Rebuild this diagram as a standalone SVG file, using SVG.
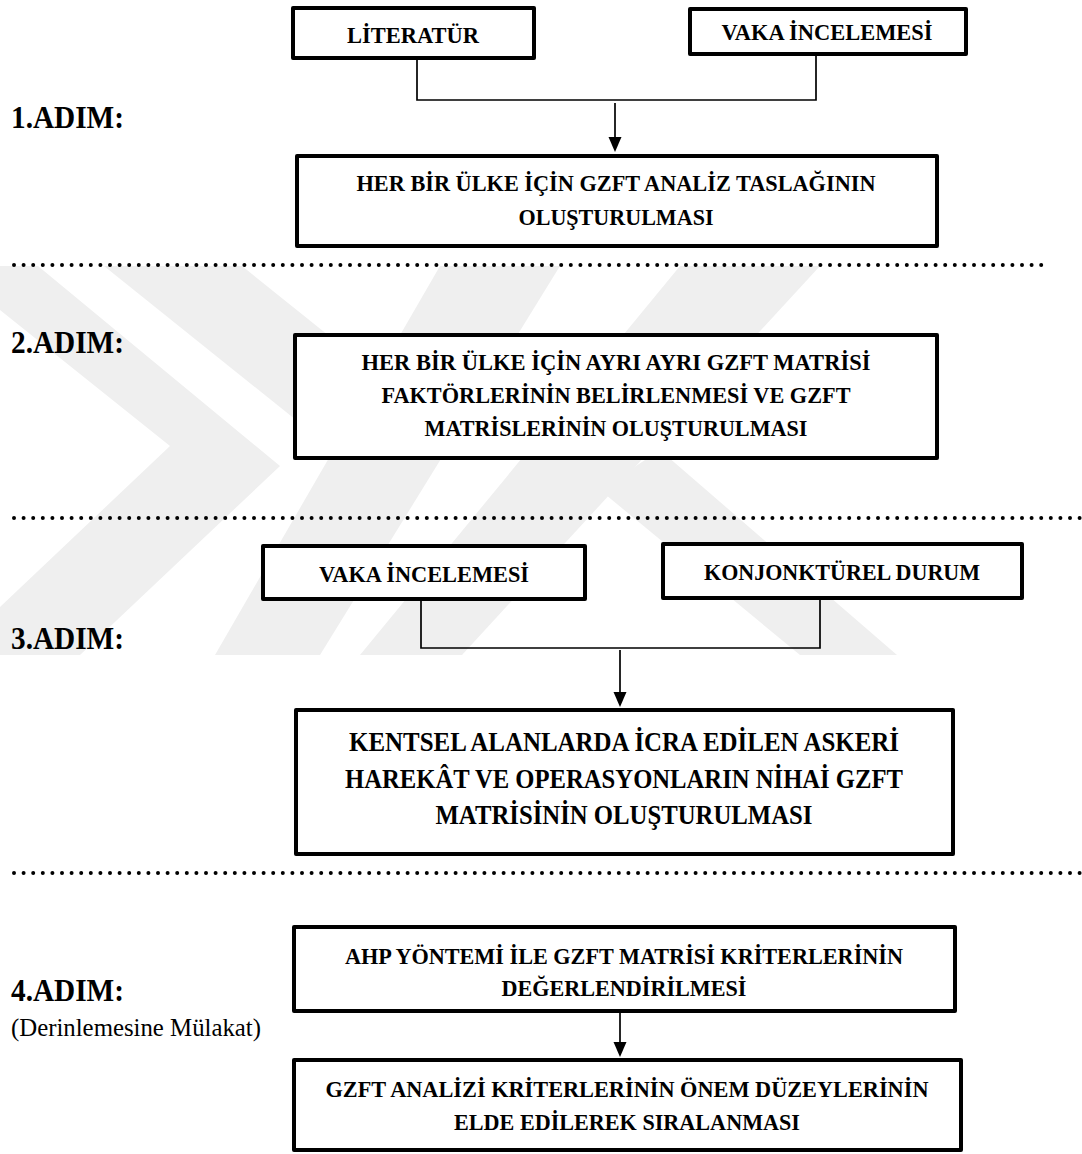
<svg xmlns="http://www.w3.org/2000/svg" width="1082" height="1154" viewBox="0 0 1082 1154">
<defs>
<style>
.box{fill:#fff;stroke:#000;stroke-width:4;stroke-linejoin:round}
.t{font-family:"Liberation Serif","Times New Roman",serif;font-weight:bold;font-size:24px;fill:#000;text-anchor:middle}
.tl{font-size:27px}
.step{font-family:"Liberation Serif","Times New Roman",serif;font-weight:bold;font-size:32px;fill:#000}
.note{font-family:"Liberation Serif","Times New Roman",serif;font-size:26px;fill:#000}
.ln{fill:none;stroke:#000;stroke-width:1.7}
.dot{fill:none;stroke:#000;stroke-width:4;stroke-linecap:round;stroke-dasharray:0 9.6}
.wm{fill:#efefef}
.ah{fill:#000}
</style>
</defs>
<rect width="1082" height="1154" fill="#fff"/>
<g id="watermark">
<polygon class="wm" points="0,266 38,266 280,466 80,655 0,655 0,607 170,446 0,310"/>
<polygon class="wm" points="104,266 242,266 434,420 296,420"/>
<polygon class="wm" points="215,655 320,655 560,266 440,266"/>
<polygon class="wm" points="360,655 462,655 820,266 680,266"/>
<polygon class="wm" points="600,490 660,450 897,655 800,655"/>
</g>
<g id="separators">
<line class="dot" x1="14" y1="265" x2="1042" y2="265"/>
<line class="dot" x1="14" y1="518" x2="1082" y2="518"/>
<line class="dot" x1="14" y1="873" x2="1082" y2="873"/>
</g>
<g id="step-labels">
<text class="step" x="11" y="128" textLength="113" lengthAdjust="spacingAndGlyphs">1.ADIM:</text>
<text class="step" x="11" y="353" textLength="113" lengthAdjust="spacingAndGlyphs">2.ADIM:</text>
<text class="step" x="11" y="649" textLength="113" lengthAdjust="spacingAndGlyphs">3.ADIM:</text>
<text class="step" x="11" y="1001" textLength="113" lengthAdjust="spacingAndGlyphs">4.ADIM:</text>
<text class="note" x="11" y="1036" textLength="250" lengthAdjust="spacingAndGlyphs">(Derinlemesine Mülakat)</text>
</g>
<g id="connectors">
<path class="ln" d="M417,60 V100 H816 V56"/>
<line class="ln" x1="615" y1="103" x2="615" y2="138"/>
<path class="ah" d="M608.5,137 L621.5,137 L615,152 Z"/>
<path class="ln" d="M421,601 V648 H820 V600"/>
<line class="ln" x1="620" y1="650" x2="620" y2="694"/>
<path class="ah" d="M613.5,692 L626.5,692 L620,707 Z"/>
<line class="ln" x1="620" y1="1013" x2="620" y2="1044"/>
<path class="ah" d="M613.5,1042 L626.5,1042 L620,1057 Z"/>
</g>
<g id="n-literatur">
<rect class="box" x="293" y="8" width="241" height="50"/>
<text class="t" x="413" y="43" textLength="132" lengthAdjust="spacingAndGlyphs">LİTERATÜR</text>
</g>
<g id="n-vaka1">
<rect class="box" x="690" y="9" width="276" height="45"/>
<text class="t" x="827" y="40" textLength="211" lengthAdjust="spacingAndGlyphs">VAKA İNCELEMESİ</text>
</g>
<g id="n-taslak">
<rect class="box" x="297" y="156" width="640" height="90"/>
<text class="t" x="616" y="191" textLength="519" lengthAdjust="spacingAndGlyphs">HER BİR ÜLKE İÇİN GZFT ANALİZ TASLAĞININ</text>
<text class="t" x="616" y="225" textLength="195" lengthAdjust="spacingAndGlyphs">OLUŞTURULMASI</text>
</g>
<g id="n-matris">
<rect class="box" x="295" y="335" width="642" height="123"/>
<text class="t" x="616" y="370" textLength="509" lengthAdjust="spacingAndGlyphs">HER BİR ÜLKE İÇİN AYRI AYRI GZFT MATRİSİ</text>
<text class="t" x="616" y="403" textLength="469" lengthAdjust="spacingAndGlyphs">FAKTÖRLERİNİN BELİRLENMESİ VE GZFT</text>
<text class="t" x="616" y="436" textLength="383" lengthAdjust="spacingAndGlyphs">MATRİSLERİNİN OLUŞTURULMASI</text>
</g>
<g id="n-vaka3">
<rect class="box" x="263" y="546" width="322" height="53"/>
<text class="t" x="424" y="582" textLength="210" lengthAdjust="spacingAndGlyphs">VAKA İNCELEMESİ</text>
</g>
<g id="n-konj">
<rect class="box" x="663" y="544" width="359" height="54"/>
<text class="t" x="842" y="580" textLength="276" lengthAdjust="spacingAndGlyphs">KONJONKTÜREL DURUM</text>
</g>
<g id="n-kentsel">
<rect class="box" x="296" y="710" width="657" height="144"/>
<text class="t tl" x="624" y="751" textLength="550" lengthAdjust="spacingAndGlyphs">KENTSEL ALANLARDA İCRA EDİLEN ASKERİ</text>
<text class="t tl" x="624" y="788" textLength="558" lengthAdjust="spacingAndGlyphs">HAREKÂT VE OPERASYONLARIN NİHAİ GZFT</text>
<text class="t tl" x="624" y="824" textLength="377" lengthAdjust="spacingAndGlyphs">MATRİSİNİN OLUŞTURULMASI</text>
</g>
<g id="n-ahp">
<rect class="box" x="294" y="927" width="661" height="84"/>
<text class="t" x="624" y="964" textLength="558" lengthAdjust="spacingAndGlyphs">AHP YÖNTEMİ İLE GZFT MATRİSİ KRİTERLERİNİN</text>
<text class="t" x="624" y="996" textLength="245" lengthAdjust="spacingAndGlyphs">DEĞERLENDİRİLMESİ</text>
</g>
<g id="n-siralama">
<rect class="box" x="294" y="1060" width="667" height="90"/>
<text class="t" x="627" y="1097" textLength="603" lengthAdjust="spacingAndGlyphs">GZFT ANALİZİ KRİTERLERİNİN ÖNEM DÜZEYLERİNİN</text>
<text class="t" x="627" y="1130" textLength="346" lengthAdjust="spacingAndGlyphs">ELDE EDİLEREK SIRALANMASI</text>
</g>
</svg>
